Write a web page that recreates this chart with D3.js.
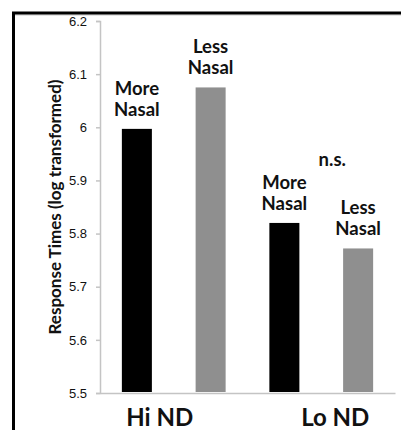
<!DOCTYPE html>
<html>
<head>
<meta charset="utf-8">
<script src="https://cdn.jsdelivr.net/npm/d3@7"></script>
<style>
  html, body { margin: 0; padding: 0; background: #fff; }
  svg { display: block; }
  text { font-family: Lato, "Open Sans", sans-serif; fill: #111; }
</style>
</head>
<body>
<svg id="chart" width="401" height="430"></svg>
<script>
const groups = ["Hi ND", "Lo ND"];
const conditions = ["More Nasal", "Less Nasal"];
const moreNasal = [5.997, 5.82];
const lessNasal = [6.075, 5.772];
const yTicks = [5.5, 5.6, 5.7, 5.8, 5.9, 6, 6.1, 6.2];
const yTitle = "Response Times (log transformed)";
const nsLabel = "n.s.";

const svg = d3.select("#chart");
const W = 401, H = 430;
const plot = { left: 100, right: 395, top: 21, bottom: 393 };

// frame (top and left rules)
svg.append("line").attr("x1", 13.5).attr("x2", W).attr("y1", 15).attr("y2", 15)
  .attr("stroke", "#c8c8c8").attr("stroke-width", 1);
svg.append("line").attr("x1", 12).attr("x2", W).attr("y1", 13).attr("y2", 13)
  .attr("stroke", "#000").attr("stroke-width", 3);
svg.append("line").attr("x1", 13.5).attr("x2", 13.5).attr("y1", 12).attr("y2", H)
  .attr("stroke", "#000").attr("stroke-width", 3);

const y = d3.scaleLinear().domain([5.5, 6.2]).range([plot.bottom, plot.top]);
const x0 = d3.scaleBand().domain(groups).range([plot.left, plot.right]).padding(0);
const x1 = d3.scaleBand().domain(conditions).range([0, x0.bandwidth()])
  .paddingInner(0.593).paddingOuter(0.2965);

const data = [];
groups.forEach((g, i) => {
  data.push({ group: g, cond: "More Nasal", value: moreNasal[i] });
  data.push({ group: g, cond: "Less Nasal", value: lessNasal[i] });
});
const color = d3.scaleOrdinal().domain(conditions).range(["#000000", "#8f8f8f"]);

// y axis
const yAxis = d3.axisLeft(y).tickValues(yTicks).tickSize(4).tickPadding(9)
  .tickFormat(d3.format("~g"));
const gy = svg.append("g").attr("transform", `translate(${plot.left},0)`).call(yAxis);
gy.select(".domain").attr("stroke", "#c4c4c4").attr("stroke-width", 1.5);
gy.selectAll(".tick line").attr("stroke", "#c4c4c4").attr("stroke-width", 1.5);
gy.selectAll(".tick text").style("font-family", "'Liberation Sans', Arial, sans-serif")
  .style("font-size", "13px").attr("fill", "#111");

// x axis baseline
const xAxis = d3.axisBottom(x0).tickSize(0).tickFormat("");
const gx = svg.append("g").attr("transform", `translate(0,${plot.bottom})`).call(xAxis);
gx.select(".domain").attr("stroke", "#c4c4c4").attr("stroke-width", 1.5);

// bars
svg.append("g").selectAll("rect").data(data).join("rect")
  .attr("x", d => x0(d.group) + x1(d.cond))
  .attr("width", x1.bandwidth())
  .attr("y", d => y(d.value))
  .attr("height", d => y(5.5) - y(d.value) - 1)
  .attr("fill", d => color(d.cond));

// bar labels
const lbl = svg.append("g").selectAll("text").data(data).join("text")
  .attr("text-anchor", "middle")
  .style("font-size", "18.5px").style("font-weight", "bold")
  .attr("x", d => x0(d.group) + x1(d.cond) + x1.bandwidth() / 2)
  .attr("y", d => y(d.value) - 13);
lbl.each(function(d) {
  const words = d.cond.split(" ");
  const t = d3.select(this);
  const cx = t.attr("x");
  t.append("tspan").attr("x", cx).attr("dy", -21).text(words[0]);
  t.append("tspan").attr("x", cx).attr("dy", 21).text(words[1]);
});

// n.s. label
const lo = groups[1];
svg.append("text").attr("text-anchor", "middle")
  .style("font-size", "18.5px").style("font-weight", "bold")
  .attr("x", x0(lo) + x0.bandwidth() / 2 + 11)
  .attr("y", y(d3.max([moreNasal[1], lessNasal[1]])) - 57)
  .text(nsLabel);

// group labels
const gOff = [-14, 14];
svg.append("g").selectAll("text").data(groups).join("text")
  .attr("text-anchor", "middle")
  .style("font-size", "24px").style("font-weight", "bold")
  .attr("x", (d, i) => x0(d) + x0.bandwidth() / 2 + gOff[i])
  .attr("y", 426)
  .text(d => d);

// y title
svg.append("text").attr("text-anchor", "middle")
  .attr("transform", `translate(61,${(plot.top + plot.bottom) / 2}) rotate(-90)`)
  .style("font-size", "17px").style("font-weight", "bold")
  .text(yTitle);
</script>
</body>
</html>
